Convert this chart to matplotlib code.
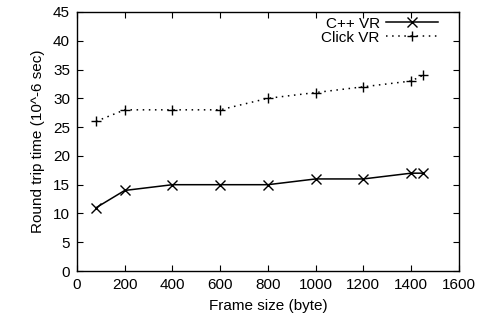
import matplotlib
matplotlib.use("Agg")
import matplotlib.pyplot as plt

plt.rcParams['font.family'] = ['Liberation Sans', 'DejaVu Sans']

frame_size = [80, 200, 400, 600, 800, 1000, 1200, 1400, 1450]
cpp_vr = [11, 14, 15, 15, 15, 16, 16, 17, 17]
click_vr = [26, 28, 28, 28, 30, 31, 32, 33, 34]

fig = plt.figure(figsize=(4.84, 3.31), dpi=100)
ax = fig.add_axes([0.159, 0.181, 0.789, 0.783])

ax.plot(frame_size, cpp_vr, color="black", lw=1.1, marker="x", ms=6.5, mew=1.0, label="C++ VR")
ax.plot(frame_size, click_vr, color="black", lw=1.1, ls=(0, (1, 3)), marker="+", ms=7.5, mew=1.0, label="Click VR")

ax.set_xlim(0, 1600)
ax.set_ylim(0, 45)
ax.set_xticks(range(0, 1601, 200))
ax.set_yticks(range(0, 46, 5))
ax.tick_params(direction="in", top=True, right=True, labelsize=11, length=4, pad=5)
for s in ax.spines.values():
    s.set_linewidth(1.0)

ax.set_xlabel("Frame size (byte)", fontsize=11, labelpad=5)
ax.set_ylabel("Round trip time (10^-6 sec)", fontsize=11, labelpad=6)

ax.legend(loc="upper right", bbox_to_anchor=(0.961, 1.005), frameon=False, markerfirst=False,
          fontsize=11, handlelength=3.4, borderaxespad=0.0, labelspacing=0.0, handletextpad=0.4)

plt.savefig("out.png", dpi=100)
